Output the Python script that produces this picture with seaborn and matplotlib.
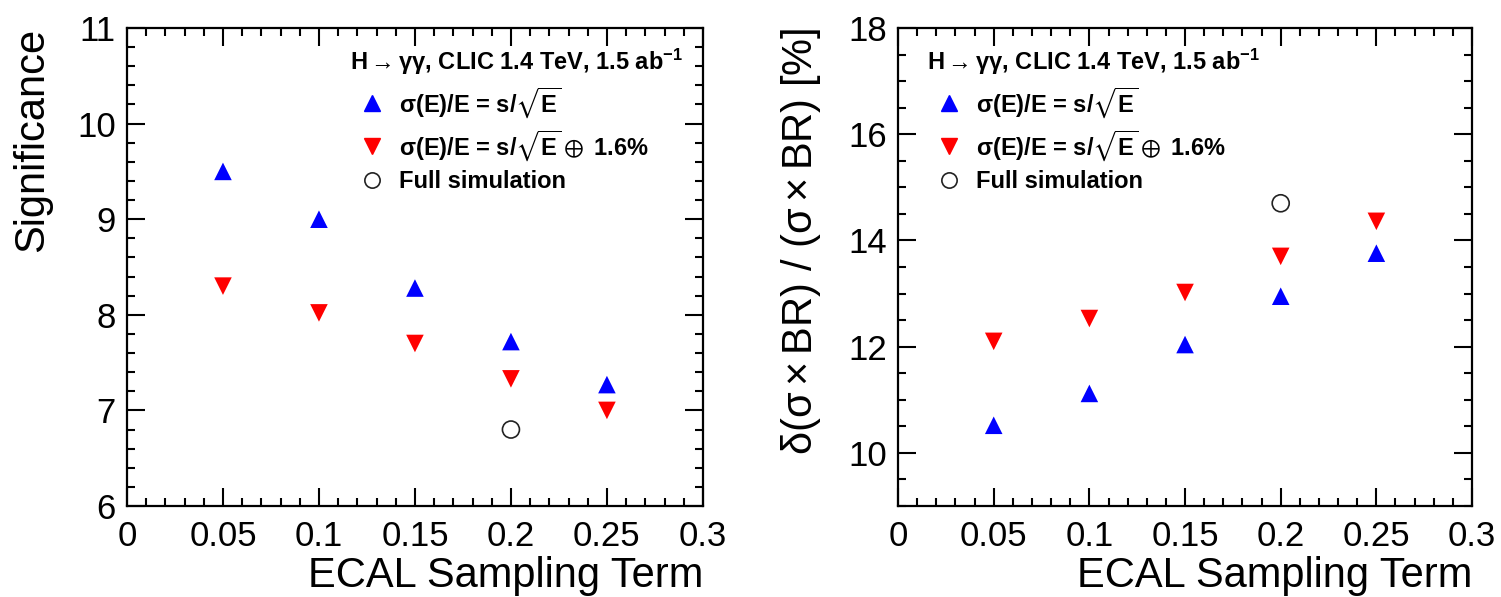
import matplotlib
matplotlib.use("Agg")
import matplotlib.pyplot as plt
from matplotlib.lines import Line2D
from matplotlib.ticker import MultipleLocator, FormatStrFormatter
import seaborn as sns
import pandas as pd

# ECAL stochastic (sampling) term values
sampling = [0.05, 0.10, 0.15, 0.20, 0.25]

# Significance of H -> gamma gamma
signif_stoch = [9.50, 9.00, 8.28, 7.72, 7.27]
signif_const = [8.30, 8.02, 7.70, 7.33, 7.00]
signif_full_x = [0.20]
signif_full = [6.80]

# Relative uncertainty on sigma x BR [%]
unc_stoch = [10.52, 11.12, 12.04, 12.95, 13.76]
unc_const = [12.10, 12.53, 13.02, 13.70, 14.36]
unc_full_x = [0.20]
unc_full = [14.70]

header = r"H$\rightarrow\gamma\gamma$, CLIC 1.4 TeV, 1.5 ab$^{-1}$"
lab_stoch = r"$\sigma$(E)/E = s/$\sqrt{\mathbf{E}}$"
lab_const = r"$\sigma$(E)/E = s/$\sqrt{\mathbf{E}}\oplus$ 1.6%"
lab_full = "Full simulation"

sns.set_theme(style="ticks")
plt.rcParams["font.family"] = ["Liberation Sans", "DejaVu Sans"]
plt.rcParams["mathtext.fontset"] = "custom"
plt.rcParams["mathtext.rm"] = "Liberation Sans"
plt.rcParams["mathtext.it"] = "Liberation Sans:italic"
plt.rcParams["mathtext.bf"] = "Liberation Sans:bold"
plt.rcParams["mathtext.default"] = "regular"
plt.rcParams["mathtext.fallback"] = "stix"
for key in ("text.color", "axes.labelcolor", "xtick.color", "ytick.color",
            "axes.edgecolor"):
    plt.rcParams[key] = "black"

BLUE = "#0000ff"
RED = "#ff0000"

fig = plt.figure(figsize=(15.01, 5.97), dpi=100)
ax1 = fig.add_axes([0.0846, 0.1524, 0.3837, 0.8007])
ax2 = fig.add_axes([0.5983, 0.1524, 0.3824, 0.8007])


def draw(ax, ys, yc, xf, yf):
    d1 = pd.DataFrame({"x": sampling, "y": ys})
    d2 = pd.DataFrame({"x": sampling, "y": yc})
    d3 = pd.DataFrame({"x": xf, "y": yf})
    sns.scatterplot(data=d1, x="x", y="y", ax=ax, marker="^", color=BLUE,
                    s=160, edgecolor="none", legend=False, zorder=3)
    sns.scatterplot(data=d2, x="x", y="y", ax=ax, marker="v", color=RED,
                    s=160, edgecolor="none", legend=False, zorder=3)
    sns.scatterplot(data=d3, x="x", y="y", ax=ax, marker="o",
                    facecolor="none", edgecolor="#222222", linewidth=1.2,
                    s=150, legend=False, zorder=3)


def style(ax, ylabel, ymin, ymax, ymaj, ymin_step):
    ax.set_xlim(0, 0.3)
    ax.set_ylim(ymin, ymax)
    ax.xaxis.set_major_locator(MultipleLocator(0.05))
    ax.xaxis.set_minor_locator(MultipleLocator(0.01))
    ax.yaxis.set_major_locator(MultipleLocator(ymaj))
    ax.yaxis.set_minor_locator(MultipleLocator(ymin_step))
    ax.xaxis.set_major_formatter(FormatStrFormatter("%g"))
    ax.yaxis.set_major_formatter(FormatStrFormatter("%g"))
    ax.tick_params(which="both", direction="in", top=True, right=True,
                   width=1.5, colors="black", labelsize=25)
    ax.tick_params(which="major", length=13)
    ax.tick_params(which="minor", length=6)
    ax.tick_params(axis="x", which="major", pad=10)
    ax.tick_params(axis="y", which="major", pad=8)
    for sp in ax.spines.values():
        sp.set_visible(True)
        sp.set_linewidth(1.6)
        sp.set_color("black")
    ax.set_xlabel("ECAL Sampling Term", fontsize=30, loc="right", labelpad=2,
                  color="black")
    ax.set_ylabel(ylabel, fontsize=30, loc="top", labelpad=18, color="black")
    ax.set_facecolor("white")
    ax.grid(False)


def add_legend(ax, anchor):
    handles = [
        Line2D([], [], linestyle="none", marker="^", color=BLUE, markersize=11),
        Line2D([], [], linestyle="none", marker="v", color=RED, markersize=11),
        Line2D([], [], linestyle="none", marker="o", markerfacecolor="none",
               markeredgecolor="#222222", markeredgewidth=1.2, markersize=11),
    ]
    leg = ax.legend(handles, [lab_stoch, lab_const, lab_full], title=header,
                    loc="upper left", bbox_to_anchor=anchor, frameon=False,
                    prop={"size": 17, "weight": "bold"},
                    title_fontproperties={"size": 17, "weight": "bold"},
                    alignment="left", handlelength=1.9, handletextpad=0.2,
                    labelspacing=0.33, borderaxespad=0, borderpad=0,
                    labelcolor="black")
    leg.get_title().set_color("black")
    return leg


draw(ax1, signif_stoch, signif_const, signif_full_x, signif_full)
style(ax1, "Significance", 6, 11, 1, 0.2)
add_legend(ax1, (0.387, 0.96))

draw(ax2, unc_stoch, unc_const, unc_full_x, unc_full)
style(ax2, r"$\delta(\sigma\times$BR) / ($\sigma\times$BR) [%]", 9, 18, 2, 0.5)
add_legend(ax2, (0.05, 0.96))

fig.savefig("out.png", dpi=100, facecolor="white")
